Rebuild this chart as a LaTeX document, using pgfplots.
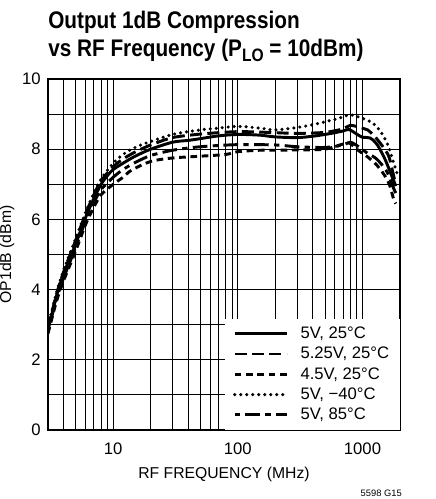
\documentclass[border=0pt]{standalone}
\usepackage{fontspec}
\setmainfont{Liberation Sans}
\newfontfamily\titlefont[FakeStretch=0.865]{Liberation Sans}
\usepackage{pgfplots}
\pgfplotsset{compat=1.18}

\newcommand{\lblfont}{\fontsize{12.5}{14}\selectfont}

\begin{document}
\begin{tikzpicture}
\begin{axis}[
  name=ax, at={(0,0)}, anchor=south west,
  scale only axis, width=264pt, height=263.25pt,
  xmode=log, xmin=3, xmax=2000, ymin=0, ymax=10,
  xtick={10,100,1000}, xticklabels={10,100,1000},
  minor xtick={3,4,5,6,7,8,9,20,30,40,50,60,70,80,90,200,300,400,500,600,700,800,900},
  ytick={0,2,4,6,8,10}, yticklabels={0,2,4,6,8,10},
  minor ytick={1,3,5,7,9},
  grid=both,
  major grid style={black, line width=0.6pt},
  minor grid style={black, line width=0.6pt},
  axis line style={line width=1.5pt},
  major tick length=0pt, minor tick length=0pt,
  tick label style={font=\lblfont},
  xticklabel style={yshift=-6pt},
  yticklabel style={xshift=-2pt},
  xlabel={RF FREQUENCY (MHz)},
  xlabel style={font=\fontsize{11.8}{13}\selectfont, at={(axis description cs:0.5,0)}, anchor=base, yshift=-36pt},
  ylabel={OP1dB (dBm)},
  ylabel style={font=\fontsize{11.8}{13}\selectfont, at={(axis description cs:-0.105,0.5)}, anchor=base},
  legend style={at={(1,0)}, anchor=south east, draw=none, fill=white,
    font=\lblfont, inner xsep=6pt, inner ysep=4pt, row sep=1pt, column sep=7pt,
    nodes={inner sep=2pt}},
  legend cell align=left,
  legend image code/.code={\draw[#1] (0pt,0pt) -- (39pt,0pt);},
  every axis plot/.append style={black, line width=2.2pt, smooth},
]
% 5V, 25C
\addplot[solid] coordinates {(3,2.85) (3.5,3.8) (4,4.45) (5,5.3) (6,6.05) (7,6.6) (8,7.0) (9,7.25) (10,7.42) (12,7.6) (15,7.8) (20,8.0) (30,8.2) (40,8.25) (50,8.3) (70,8.38) (100,8.42) (150,8.4) (200,8.35) (300,8.33) (400,8.37) (500,8.42) (600,8.47) (700,8.52) (780,8.56) (900,8.43) (1000,8.34) (1150,8.32) (1300,8.15) (1500,7.75) (1700,7.28) (1850,6.95)};
\addlegendentry{5V, 25°C}
% 5.25V, 25C
\addplot[dash pattern=on 9pt off 4pt] coordinates {(3,2.9) (3.5,3.85) (4,4.5) (5,5.4) (6,6.15) (7,6.7) (8,7.1) (10,7.5) (12,7.72) (15,7.92) (20,8.12) (30,8.33) (50,8.43) (100,8.5) (200,8.47) (300,8.45) (500,8.48) (700,8.58) (800,8.68) (1000,8.6) (1100,8.55) (1300,8.3) (1600,7.85) (1720,7.46) (1830,7.05)};
\addlegendentry{5.25V, 25°C}
% 4.5V, 25C
\addplot[dash pattern=on 5pt off 3.5pt] coordinates {(3,2.75) (3.5,3.65) (4,4.25) (5,5.1) (6,5.85) (7,6.35) (8,6.7) (10,7.0) (12,7.2) (14,7.4) (20,7.65) (30,7.75) (50,7.8) (80,7.85) (100,7.93) (150,7.97) (200,7.97) (300,7.98) (500,8.0) (700,8.15) (780,8.18) (900,8.0) (1000,7.88) (1100,7.78) (1300,7.55) (1500,7.26) (1650,6.98) (1770,6.6) (1850,6.45)};
\addlegendentry{4.5V, 25°C}
% 5V, -40C
\addplot[dash pattern=on 0pt off 4.5pt, line cap=round, line width=2.6pt] coordinates {(3,2.95) (3.5,3.9) (4,4.55) (5,5.45) (6,6.2) (7,6.75) (8,7.15) (10,7.6) (12,7.85) (15,8.05) (20,8.22) (30,8.42) (50,8.55) (70,8.6) (100,8.65) (150,8.6) (200,8.55) (300,8.62) (400,8.7) (500,8.78) (600,8.85) (700,8.92) (800,8.98) (1000,8.88) (1200,8.75) (1400,8.5) (1600,8.12) (1750,7.69) (1900,7.3)};
\addlegendentry{5V, −40°C}
% 5V, 85C
\addplot[dash pattern=on 4pt off 4pt on 11pt off 4pt] coordinates {(3,2.8) (3.5,3.72) (4,4.33) (5,5.2) (6,5.95) (7,6.48) (8,6.85) (10,7.2) (12,7.42) (15,7.62) (20,7.82) (30,7.97) (50,8.07) (100,8.13) (200,8.12) (300,8.07) (500,8.05) (700,8.12) (800,8.2) (950,8.05) (1100,7.88) (1300,7.72) (1570,7.36) (1770,6.9) (1850,6.75)};
\addlegendentry{5V, 85°C}
\end{axis}
\node[anchor=south west, inner sep=0pt, align=left,
  font=\titlefont\bfseries\fontsize{18}{21}\selectfont]
  at ([yshift=12.5pt]ax.north west)
  {Output 1dB Compression\\vs RF Frequency (P\raisebox{-0.4ex}{\fontsize{13.5}{13.5}\selectfont LO} = 10dBm)};
\node[anchor=base east, inner sep=0pt, font=\fontsize{7}{8}\selectfont]
  at ([xshift=1.5pt, yshift=-50pt]ax.south east) {5598 G15};
\pgfresetboundingbox
\useasboundingbox ([xshift=-36pt, yshift=-51.75pt]ax.south west) rectangle ([xshift=26.25pt, yshift=59.25pt]ax.north east);
\end{tikzpicture}
\end{document}
